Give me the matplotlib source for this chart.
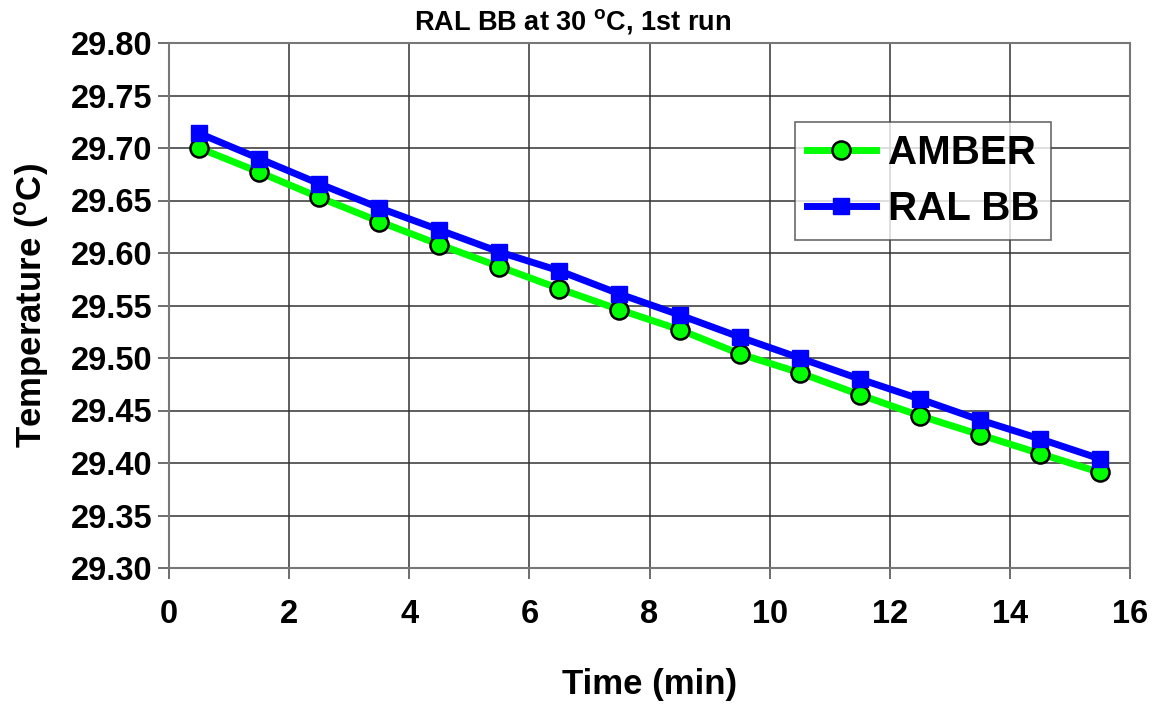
import matplotlib
matplotlib.use('Agg')
import matplotlib.pyplot as plt

# Data
time_min = [0.5, 1.5, 2.5, 3.5, 4.5, 5.5, 6.5, 7.5, 8.5, 9.5, 10.5, 11.5, 12.5, 13.5, 14.5, 15.5]
amber = [29.700, 29.677, 29.653, 29.630, 29.608, 29.587, 29.566, 29.546, 29.527, 29.504,
         29.486, 29.465, 29.445, 29.427, 29.409, 29.391]
ral_bb = [29.714, 29.690, 29.666, 29.643, 29.622, 29.601, 29.583, 29.561, 29.541, 29.520,
          29.500, 29.480, 29.461, 29.441, 29.423, 29.404]
xticks = [0, 2, 4, 6, 8, 10, 12, 14, 16]
yticks = [29.30, 29.35, 29.40, 29.45, 29.50, 29.55, 29.60, 29.65, 29.70, 29.75, 29.80]

plt.rcParams['font.family'] = ['Liberation Sans', 'DejaVu Sans']
plt.rcParams['font.weight'] = 'bold'
plt.rcParams['mathtext.fontset'] = 'custom'
plt.rcParams['mathtext.rm'] = 'Liberation Sans:bold'
plt.rcParams['mathtext.bf'] = 'Liberation Sans:bold'

fig = plt.figure(figsize=(11.54, 7.04), dpi=100)
ax = fig.add_axes([169/1154, 1 - 568/704, (1130-169)/1154, (568-43)/704])

ax.plot(time_min, amber, color='#00ff00', lw=5, marker='o', ms=13,
        mfc='#00ff00', mec='black', mew=1.8, label='AMBER', zorder=3)
ax.plot(time_min, ral_bb, color='#0000ff', lw=5, marker='s', ms=11,
        mfc='#0000ff', mec='#0000ff', label='RAL BB', zorder=4)

ax.set_xlim(0, 16)
ax.set_ylim(29.30, 29.80)
ax.set_xticks(xticks)
ax.set_yticks(yticks)
ax.set_yticklabels(['%.2f' % v for v in yticks])
ax.tick_params(axis='both', labelsize=23.5, direction='out', length=8, width=1.2,
               color='#555555', pad=4)
ax.tick_params(axis='x', pad=14)
ax.grid(True, color='#333333', lw=1.1)
for s in ax.spines.values():
    s.set_color('#777777')
    s.set_linewidth(1.5)

ax.set_xlabel('Time (min)', fontsize=25, fontweight='bold', labelpad=28)
ax.set_ylabel('Temperature ($^\\mathrm{o}$C)', fontsize=25, fontweight='bold', labelpad=14)
fig.text(0.496, 1 - 22/704, 'RAL BB at 30 $^\\mathrm{o}$C, 1st run', fontsize=19.5,
         fontweight='bold', ha='center', va='center')

leg = ax.legend(loc='upper left', bbox_to_anchor=((795-169)/961, 1 - (122-43)/525),
                fontsize=29, frameon=True, fancybox=False, edgecolor='#444444',
                borderpad=0.3, handlelength=1.7, handletextpad=0.3, labelspacing=0.45,
                borderaxespad=0)
leg.get_frame().set_linewidth(1.2)
for t in leg.get_texts():
    t.set_fontweight('bold')

fig.savefig('out.png', dpi=100)
